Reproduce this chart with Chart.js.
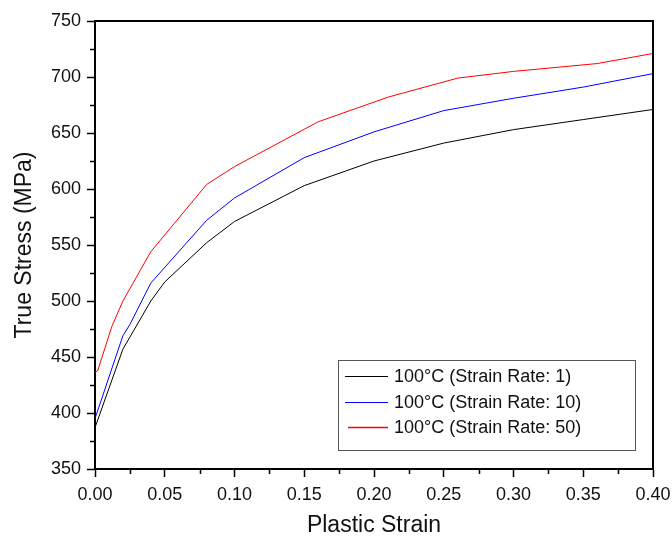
<!DOCTYPE html>
<html>
<head>
<meta charset="utf-8">
<script src="https://cdn.jsdelivr.net/npm/chart.js@4/dist/chart.umd.min.js"></script>
<style>
html,body{margin:0;padding:0;background:#fff;}
#wrap{width:672px;height:541px;position:relative;}
</style>
</head>
<body>
<div id="wrap"><canvas id="c" width="672" height="541"></canvas></div>
<script>
const seriesLabels = ["100°C (Strain Rate: 1)", "100°C (Strain Rate: 10)", "100°C (Strain Rate: 50)"];
const seriesColors = ["#000000", "#0000ff", "#ff0000"];

const strain1 = [0, 0.01, 0.02, 0.04, 0.05, 0.08, 0.10, 0.15, 0.20, 0.25, 0.30, 0.35, 0.40];
const stress1 = [387, 422, 457, 500, 517, 552, 571, 603, 625, 641, 653, 662, 671];

const strain10 = [0, 0.02, 0.025, 0.04, 0.08, 0.10, 0.15, 0.20, 0.25, 0.30, 0.35, 0.40];
const stress10 = [395, 469, 479, 516, 572, 592, 628, 651, 670, 681, 691, 703];

const strain50 = [0, 0.002, 0.012, 0.02, 0.04, 0.08, 0.10, 0.16, 0.21, 0.26, 0.30, 0.36, 0.40];
const stress50 = [436, 438, 477, 500, 544, 604, 620, 660, 682, 699, 705, 712, 721];

const xTicks = [0, 0.05, 0.10, 0.15, 0.20, 0.25, 0.30, 0.35, 0.40];
const yTicks = [350, 400, 450, 500, 550, 600, 650, 700, 750];

function pts(xs, ys){ return xs.map((x,i)=>({x:x, y:ys[i]})); }

const FONT = "'Liberation Sans', Arial, sans-serif";

const framePlugin = {
  id: 'frame',
  afterDraw(chart){
    const ctx = chart.ctx, a = chart.chartArea;
    const xs = chart.scales.x, ys = chart.scales.y;
    ctx.save();
    ctx.strokeStyle = '#000';
    ctx.lineWidth = 2;
    ctx.beginPath();
    ctx.moveTo(a.left, a.top); ctx.lineTo(a.right, a.top); ctx.lineTo(a.right, a.bottom);
    ctx.stroke();
    // minor ticks
    ctx.lineWidth = 1.5;
    ctx.beginPath();
    for (let i=0;i<xTicks.length-1;i++){
      const v = (xTicks[i]+xTicks[i+1])/2;
      const p = Math.round(xs.getPixelForValue(v))+0.5;
      ctx.moveTo(p, a.bottom); ctx.lineTo(p, a.bottom+5);
    }
    for (let i=0;i<yTicks.length-1;i++){
      const v = (yTicks[i]+yTicks[i+1])/2;
      const p = Math.round(ys.getPixelForValue(v))+0.5;
      ctx.moveTo(a.left, p); ctx.lineTo(a.left-5, p);
    }
    ctx.stroke();
    // legend box
    const bx = 338, by = 360, bw = 297, bh = 90;
    ctx.fillStyle = '#fff';
    ctx.fillRect(bx, by, bw, bh);
    ctx.strokeStyle = '#555';
    ctx.lineWidth = 1;
    ctx.strokeRect(bx+0.5, by+0.5, bw, bh);
    ctx.font = '18px ' + FONT;
    ctx.textBaseline = 'middle';
    ctx.textAlign = 'left';
    seriesLabels.forEach((lab, i) => {
      const yy = Math.round(by + 16 + i*25.5);
      ctx.strokeStyle = seriesColors[i];
      ctx.lineWidth = i === 2 ? 1.6 : 1;
      ctx.beginPath();
      ctx.moveTo(bx + (i === 2 ? 10 : 7), yy+0.5); ctx.lineTo(bx+50, yy+0.5);
      ctx.stroke();
      ctx.fillStyle = '#111';
      ctx.fillText(lab, bx+56, yy+1);
    });
    ctx.restore();
  }
};

new Chart(document.getElementById('c'), {
  type: 'scatter',
  data: {
    datasets: [
      {label: seriesLabels[0], data: pts(strain1, stress1), borderColor: seriesColors[0]},
      {label: seriesLabels[1], data: pts(strain10, stress10), borderColor: seriesColors[1]},
      {label: seriesLabels[2], data: pts(strain50, stress50), borderColor: seriesColors[2]}
    ].map(d => Object.assign(d, {showLine: true, borderWidth: 1, pointRadius: 0, tension: 0, fill: false, backgroundColor: d.borderColor}))
  },
  options: {
    responsive: false,
    animation: false,
    layout: {padding: {top: 21, right: 19, left: 0, bottom: 0}},
    plugins: {legend: {display: false}, tooltip: {enabled: false}},
    scales: {
      x: {
        type: 'linear', min: 0, max: 0.40,
        afterFit: s => { s.height = 72; s.paddingLeft = 0; s.paddingRight = 0; },
        afterBuildTicks: s => { s.ticks = xTicks.map(v => ({value: v})); },
        grid: {drawOnChartArea: false, drawTicks: true, tickLength: 8, tickWidth: 1.5, tickColor: '#000'},
        border: {color: '#000', width: 2},
        ticks: {color: '#111', font: {family: FONT, size: 18}, padding: 7, maxRotation: 0, callback: v => Number(v).toFixed(2)},
        title: {display: true, text: 'Plastic Strain', color: '#111', font: {family: FONT, size: 23}, padding: {top: 4, bottom: 2}}
      },
      y: {
        type: 'linear', min: 350, max: 750,
        afterFit: s => { s.width = 95; s.paddingTop = 0; s.paddingBottom = 0; },
        afterBuildTicks: s => { s.ticks = yTicks.map(v => ({value: v})); },
        grid: {drawOnChartArea: false, drawTicks: true, tickLength: 8, tickWidth: 1.5, tickColor: '#000'},
        border: {color: '#000', width: 2},
        ticks: {color: '#111', font: {family: FONT, size: 18}, padding: 6, callback: v => String(v)},
        title: {display: true, text: 'True Stress (MPa)', color: '#111', font: {family: FONT, size: 23}, padding: {top: 11, bottom: 4}}
      }
    }
  },
  plugins: [framePlugin]
});
</script>
</body>
</html>
